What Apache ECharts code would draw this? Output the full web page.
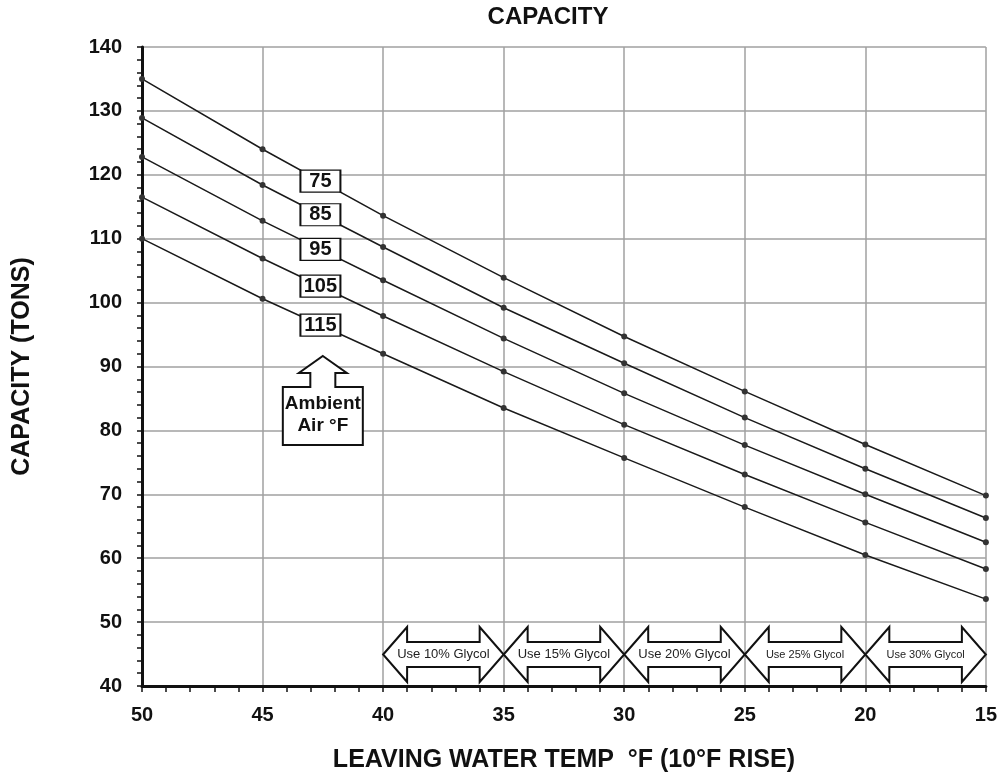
<!DOCTYPE html>
<html lang="en">
  <head>
    <meta charset="UTF-8" />
    <title>Capacity</title>
    <style>
      body { margin: 0; background: #fff; }
      #main { width: 1000px; height: 780px; }
    </style>
  </head>
  <body>
    <div id="main"></div>
    <script src="https://cdn.jsdelivr.net/npm/echarts@6/dist/echarts.min.js"></script>
    <script>
      // leaving water temp (x) and capacity in tons for each ambient air temp
      var temps = [50, 45, 40, 35, 30, 25, 20, 15];
      var ambients = ["75", "85", "95", "105", "115"];
      var cap75 = [135, 124, 113.6, 103.9, 94.7, 86.1, 77.8, 69.8];
      var cap85 = [128.9, 118.4, 108.7, 99.2, 90.5, 82.0, 74.0, 66.3];
      var cap95 = [122.8, 112.8, 103.5, 94.4, 85.8, 77.7, 70.0, 62.5];
      var cap105 = [116.5, 106.9, 97.9, 89.2, 80.9, 73.1, 65.6, 58.3];
      var cap115 = [110, 100.6, 92.0, 83.5, 75.7, 68.0, 60.5, 53.6];
      var caps = [cap75, cap85, cap95, cap105, cap115];

      var glycolRanges = [[40, 35], [35, 30], [30, 25], [25, 20], [20, 15]];
      var glycolLabels = ["Use 10% Glycol", "Use 15% Glycol", "Use 20% Glycol", "Use 25% Glycol", "Use 30% Glycol"];

      var FONT = "'Liberation Sans', Arial, sans-serif";
      var labelX = 42.6; // where the ambient boxes sit on the lines

      function interp(arr, x) {
        for (var i = 0; i < temps.length - 1; i++) {
          if (x <= temps[i] && x >= temps[i + 1]) {
            var t = (temps[i] - x) / (temps[i] - temps[i + 1]);
            return arr[i] + t * (arr[i + 1] - arr[i]);
          }
        }
        return arr[0];
      }

      var series = caps.map(function (arr, k) {
        return {
          name: ambients[k],
          type: "line",
          data: temps.map(function (t, i) { return [t, arr[i]]; }),
          symbol: "circle",
          symbolSize: 6,
          lineStyle: { color: "#1a1a1a", width: 1.5 },
          itemStyle: { color: "#333" },
          markPoint: {
            symbol: "rect",
            symbolSize: [40, 22],
            itemStyle: { color: "#fff", borderColor: "#111", borderWidth: 1.5 },
            label: {
              show: true,
              position: "inside",
              color: "#111",
              fontFamily: FONT,
              fontWeight: "bold",
              fontSize: 20,
              formatter: ambients[k]
            },
            data: [{ coord: [labelX, interp(arr, labelX)] }]
          }
        };
      });

      var myChart = echarts.init(document.getElementById("main"));
      var option = {
        animation: false,
        backgroundColor: "#fff",
        grid: { left: 142, right: 13, top: 47, bottom: 94 },
        xAxis: {
          type: "value",
          inverse: true,
          min: 15,
          max: 50,
          interval: 5,
          name: "LEAVING WATER TEMP  °F (10°F RISE)",
          nameLocation: "middle",
          nameGap: 62,
          nameTextStyle: { color: "#111", fontFamily: FONT, fontWeight: "bold", fontSize: 25 },
          axisLine: { onZero: false, lineStyle: { color: "#111", width: 3 } },
          axisTick: { length: 6, lineStyle: { color: "#111", width: 1.5 } },
          minorTick: { show: true, splitNumber: 5, length: 6, lineStyle: { color: "#111", width: 1.5 } },
          axisLabel: { margin: 19, color: "#111", fontFamily: FONT, fontWeight: "bold", fontSize: 20 },
          splitLine: { show: true, lineStyle: { color: "#a0a0a0", width: 1.5 } }
        },
        yAxis: {
          type: "value",
          min: 40,
          max: 140,
          interval: 10,
          name: "CAPACITY (TONS)",
          nameLocation: "middle",
          nameGap: 107,
          nameTextStyle: { color: "#111", fontFamily: FONT, fontWeight: "bold", fontSize: 25 },
          axisLine: { show: true, lineStyle: { color: "#111", width: 3 } },
          axisTick: { show: true, length: 5, lineStyle: { color: "#111", width: 1.5 } },
          minorTick: { show: true, splitNumber: 5, length: 5, lineStyle: { color: "#111", width: 1.5 } },
          axisLabel: { margin: 20, color: "#111", fontFamily: FONT, fontWeight: "bold", fontSize: 20 },
          splitLine: { show: true, lineStyle: { color: "#a0a0a0", width: 1.5 } }
        },
        series: series
      };
      myChart.setOption(option);

      // annotations: title, ambient arrow, glycol arrows
      function px(x, y) {
        return myChart.convertToPixel({ xAxisIndex: 0, yAxisIndex: 0 }, [x, y]);
      }
      var graphics = [];
      graphics.push({
        type: "text",
        x: 548,
        y: 17,
        style: { text: "CAPACITY", font: "bold 24px " + FONT, fill: "#111", textAlign: "center", textVerticalAlign: "middle" }
      });

      var ax = px(42.5, 90)[0];
      graphics.push({
        type: "polygon",
        z: 10,
        shape: {
          points: [
            [ax, 356], [ax + 24, 373], [ax + 12.5, 373], [ax + 12.5, 387], [ax + 40, 387], [ax + 40, 445],
            [ax - 40, 445], [ax - 40, 387], [ax - 12.5, 387], [ax - 12.5, 373], [ax - 24, 373]
          ]
        },
        style: { fill: "#fff", stroke: "#111", lineWidth: 2 }
      });
      graphics.push({
        type: "text",
        z: 11,
        x: ax,
        y: 415,
        style: { text: "Ambient\nAir °F", font: "bold 19px " + FONT, lineHeight: 22, fill: "#111", textAlign: "center", textVerticalAlign: "middle" }
      });

      var cy = 654.5;
      glycolRanges.forEach(function (r, i) {
        var x1 = px(r[0], 45)[0];
        var x2 = px(r[1], 45)[0];
        var h = 24;
        graphics.push({
          type: "polygon",
          z: 10,
          shape: {
            points: [
              [x1, cy], [x1 + h, cy - 27.5], [x1 + h, cy - 12.5], [x2 - h, cy - 12.5], [x2 - h, cy - 27.5],
              [x2, cy], [x2 - h, cy + 27.5], [x2 - h, cy + 12.5], [x1 + h, cy + 12.5], [x1 + h, cy + 27.5]
            ]
          },
          style: { fill: "#fff", stroke: "#111", lineWidth: 2 }
        });
        graphics.push({
          type: "text",
          z: 11,
          x: (x1 + x2) / 2,
          y: cy,
          style: { text: glycolLabels[i], font: (i < 3 ? 13 : 11) + "px " + FONT, fill: "#222", textAlign: "center", textVerticalAlign: "middle" }
        });
      });
      myChart.setOption({ graphic: graphics });
    </script>
  </body>
</html>
